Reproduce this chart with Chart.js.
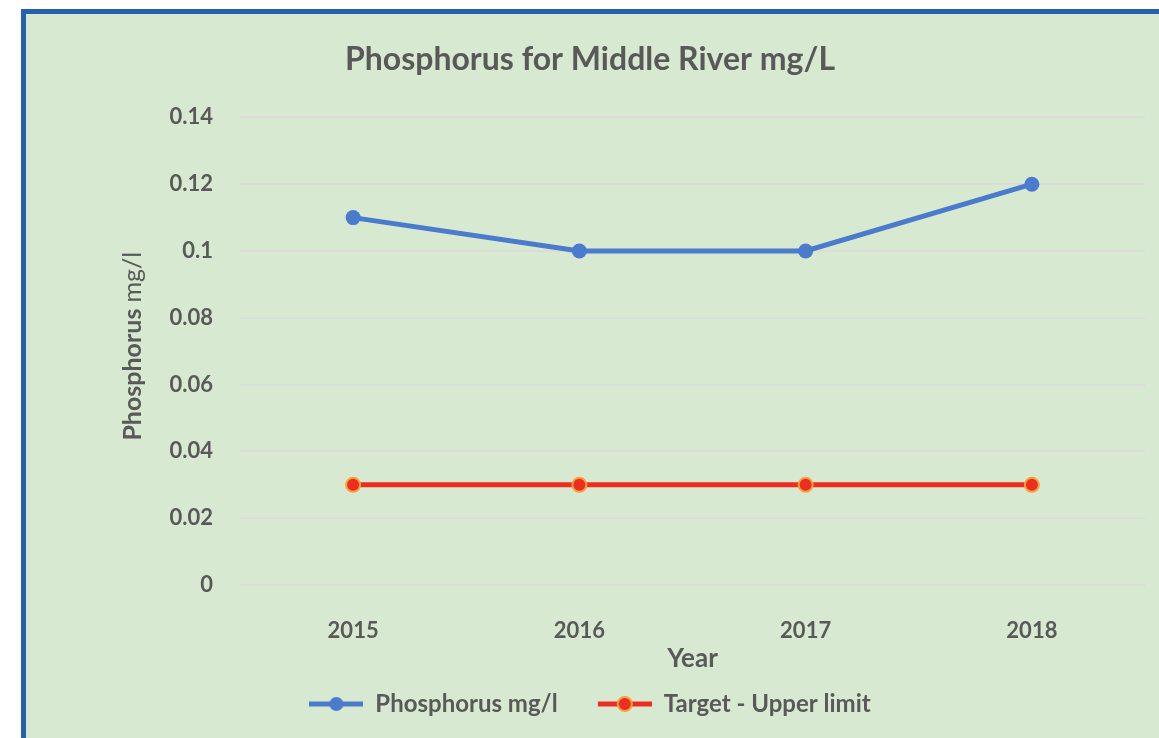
<!DOCTYPE html>
<html>
<head>
<meta charset="utf-8">
<script src="https://cdn.jsdelivr.net/npm/chart.js@4.4.1/dist/chart.umd.min.js"></script>
<style>
  html, body { margin: 0; padding: 0; background: #fff; overflow: hidden; width: 1159px; height: 738px; }
  #frame {
    position: absolute; left: 21px; top: 9px; width: 1200px; height: 800px;
    border-left: 5px solid #2561b0; border-top: 5px solid #2561b0;
    background: #d8e9d1;
  }
  #chart { position: absolute; left: 0; top: 0; }
</style>
</head>
<body>
<div id="frame"></div>
<canvas id="chart" width="1182" height="738"></canvas>
<script>
const years = ['2015', '2016', '2017', '2018'];
const phosphorus = [0.11, 0.10, 0.10, 0.12];
const target = [0.03, 0.03, 0.03, 0.03];
const yTicks = [0, 0.02, 0.04, 0.06, 0.08, 0.1, 0.12, 0.14];

const textColor = '#595959';
const fontFamily = 'Lato, "Open Sans", sans-serif';

// legend marker: short line with a dot in the middle
function legendMarker(lineColor, fill, border) {
  const c = document.createElement('canvas');
  c.width = 54; c.height = 18;
  const g = c.getContext('2d');
  g.strokeStyle = lineColor;
  g.lineWidth = 5;
  g.beginPath(); g.moveTo(0, 9); g.lineTo(54, 9); g.stroke();
  g.beginPath(); g.arc(27, 9, 7, 0, Math.PI * 2);
  g.fillStyle = fill; g.fill();
  if (border) { g.lineWidth = 2; g.strokeStyle = border; g.stroke(); }
  return c;
}

const markers = [
  legendMarker('#4a7bcd', '#4a7bcd'),
  legendMarker('#ee2d21', '#ee2d21', '#f4a23b')
];

// y axis title: "Phosphorus" bold, "mg/l" regular
const yTitlePlugin = {
  id: 'yTitle',
  afterDraw(chart) {
    const y = chart.scales.y;
    const ctx = chart.ctx;
    const cy = (y.top + y.bottom) / 2;
    ctx.save();
    ctx.translate(133, cy - 5);
    ctx.rotate(-Math.PI / 2);
    ctx.fillStyle = textColor;
    ctx.textBaseline = 'middle';
    const boldFont = 'bold 25px ' + fontFamily;
    const normFont = '25px ' + fontFamily;
    ctx.font = boldFont;
    const w1 = ctx.measureText('Phosphorus ').width;
    ctx.font = normFont;
    const w2 = ctx.measureText('mg/l').width;
    let x = -(w1 + w2) / 2;
    ctx.font = boldFont;
    ctx.fillText('Phosphorus ', x, 0);
    ctx.font = normFont;
    ctx.fillText('mg/l', x + w1, 0);
    ctx.restore();
  }
};

new Chart(document.getElementById('chart'), {
  type: 'line',
  data: {
    labels: years,
    datasets: [
      {
        label: 'Phosphorus mg/l',
        data: phosphorus,
        borderColor: '#4a7bcd',
        backgroundColor: '#4a7bcd',
        borderWidth: 5,
        pointRadius: 7.5,
        pointBorderWidth: 0,
        tension: 0
      },
      {
        label: 'Target - Upper limit',
        data: target,
        borderColor: '#ee2d21',
        backgroundColor: '#ee2d21',
        borderWidth: 5,
        pointRadius: 7,
        pointBorderColor: '#f4a23b',
        pointBorderWidth: 2,
        tension: 0
      }
    ]
  },
  options: {
    responsive: false,
    animation: false,
    devicePixelRatio: 1,
    layout: { padding: { top: 30, left: 35, right: 37, bottom: 12 } },
    plugins: {
      title: {
        display: true,
        text: 'Phosphorus for Middle River mg/L',
        color: textColor,
        font: { family: fontFamily, size: 32, weight: 'bold' },
        padding: { top: 10, bottom: 39 }
      },
      legend: {
        position: 'bottom',
        labels: {
          color: textColor,
          font: { family: fontFamily, size: 24, weight: 'bold' },
          usePointStyle: true,
          pointStyleWidth: 54,
          padding: 10,
          generateLabels(chart) {
            return chart.data.datasets.map((ds, i) => ({
              // extra gap after the first entry
              text: i === 0 ? ds.label + '\u2003\u2002' : ds.label,
              fontColor: textColor,
              pointStyle: markers[i],
              datasetIndex: i,
              hidden: false,
              lineWidth: 0
            }));
          }
        }
      },
      tooltip: { enabled: false }
    },
    scales: {
      x: {
        offset: true,
        afterFit(scale) { scale.height = 97; },
        grid: { display: false, drawTicks: false },
        border: { display: false },
        ticks: { color: textColor, font: { family: fontFamily, size: 22, weight: 'bold' }, padding: 33 },
        title: {
          display: true,
          text: 'Year',
          color: textColor,
          font: { family: fontFamily, size: 26, weight: 'bold' },
          padding: { top: 0, bottom: 8 }
        }
      },
      y: {
        min: 0,
        max: 0.14,
        afterBuildTicks(scale) { scale.ticks = yTicks.map(v => ({ value: v })); },
        afterFit(scale) { scale.width = 205; },
        grid: { color: '#dadcd6', lineWidth: 2, drawTicks: false },
        border: { display: false },
        ticks: {
          color: textColor,
          font: { family: fontFamily, size: 22, weight: 'bold' },
          padding: 27,
          callback: v => String(+v.toFixed(2))
        }
      }
    }
  },
  plugins: [yTitlePlugin]
});
</script>
</body>
</html>
